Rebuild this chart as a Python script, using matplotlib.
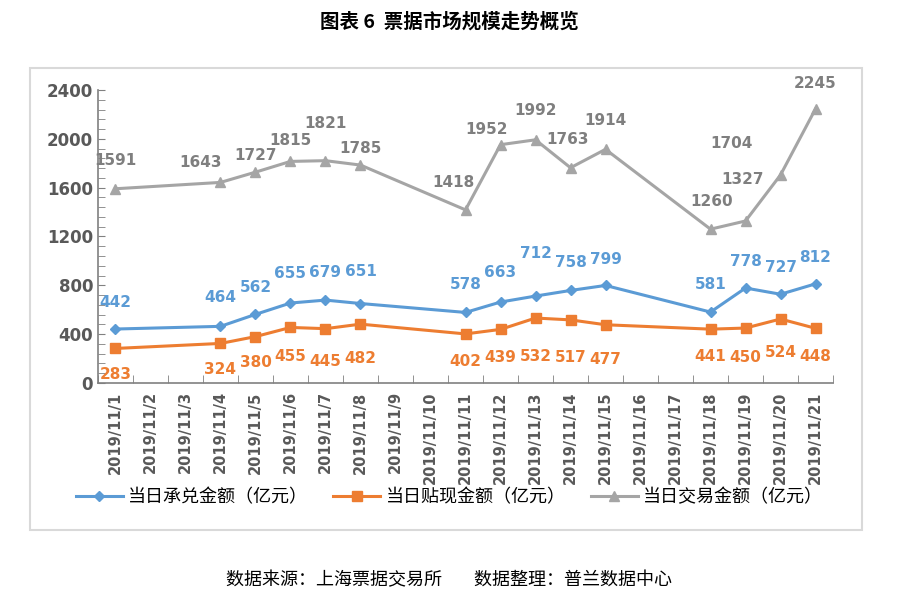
import matplotlib
matplotlib.use('Agg')
import matplotlib.pyplot as plt
from matplotlib.patches import Rectangle
from matplotlib.ticker import MultipleLocator, FixedLocator
import numpy as np

plt.rcParams['font.family'] = ['Noto Sans CJK SC', 'DejaVu Sans']

dates = ['2019/11/%d' % d for d in range(1, 22)]
days = [1, 4, 5, 6, 7, 8, 11, 12, 13, 14, 15, 18, 19, 20, 21]
accept = [442, 464, 562, 655, 679, 651, 578, 663, 712, 758, 799, 581, 778, 727, 812]
discount = [283, 324, 380, 455, 445, 482, 402, 439, 532, 517, 477, 441, 450, 524, 448]
trade = [1591, 1643, 1727, 1815, 1821, 1785, 1418, 1952, 1992, 1763, 1914, 1260, 1327, 1704, 2245]

names = ['当日承兑金额（亿元）', '当日贴现金额（亿元）', '当日交易金额（亿元）']
colors = ['#5B9BD5', '#ED7D31', '#A5A5A5']

# label offsets (points) for each series, mimicking Excel placement
trade_off = [(0, 20), (-14, 14), (0, 12), (0, 15), (0, 27), (0, 12), (-9, 20), (-10, 11),
             (0, 21), (-2, 20), (0, 21), (1, 20), (-2, 30), (-35, 23), (0, 18)]
acc_off = [(0, 19), (0, 21), (0, 19), (0, 21), (0, 20), (0, 23), (0, 20), (0, 21),
           (0, 31), (0, 20), (0, 19), (0, 20), (0, 19), (0, 19), (0, 19)]
dis_off = [(0, -19), (0, -19), (0, -19), (0, -21), (0, -24), (0, -25), (0, -20), (0, -20),
           (0, -28), (0, -27), (0, -25), (0, -20), (0, -21), (0, -24), (0, -20)]

fig = plt.figure(figsize=(8.99, 6.06), dpi=100)
ax = fig.add_axes([0.109, 0.368, 0.8176, 0.4835])

x = np.array(days) - 1
ax.plot(x, accept, color=colors[0], lw=2.2, marker='D', ms=5.5, label=names[0])
ax.plot(x, discount, color=colors[1], lw=2.2, marker='s', ms=7.5, label=names[1])
ax.plot(x, trade, color=colors[2], lw=2.2, marker='^', ms=7.5, label=names[2])

lab_colors = ['#5B9BD5', '#ED7D31', '#7F7F7F']
for vals, offs, c in [(accept, acc_off, lab_colors[0]), (discount, dis_off, lab_colors[1]),
                      (trade, trade_off, lab_colors[2])]:
    for xi, v, o in zip(x, vals, offs):
        ax.annotate(str(v), (xi, v), xytext=o, textcoords='offset points',
                    ha='center', va='center', fontsize=11, fontweight='bold',
                    color=c, family='DejaVu Sans')

ax.set_xlim(-0.5, 20.5)
ax.set_ylim(0, 2400)
ax.yaxis.set_major_locator(MultipleLocator(400))
ax.yaxis.set_minor_locator(MultipleLocator(80))
ax.set_xticks(range(21))
ax.set_xticklabels(dates, rotation=90, fontsize=10.5, fontweight='bold', color='#595959',
                   family='DejaVu Sans')
ax.xaxis.set_minor_locator(FixedLocator(np.arange(-0.5, 21, 1)))
ax.tick_params(axis='x', which='major', length=0, pad=6)
ax.tick_params(axis='x', which='minor', direction='in', length=6, color='#808080')
ax.tick_params(axis='y', which='both', direction='in', length=5, color='#808080',
               labelsize=12, labelcolor='#595959')
for t in ax.get_yticklabels():
    t.set_fontweight('bold')
    t.set_family('DejaVu Sans')
for s in ['top', 'right']:
    ax.spines[s].set_visible(False)
for s in ['left', 'bottom']:
    ax.spines[s].set_color('#808080')
    ax.spines[s].set_linewidth(1.2)

fig.legend(loc='center', bbox_to_anchor=(0.5, 1 - 497 / 606), ncol=3, frameon=False,
           fontsize=13, handlelength=2.6, columnspacing=1.4, handletextpad=0.3)

fig.patches.append(Rectangle((30 / 899, 1 - 530 / 606), 832 / 899, 462 / 606,
                             transform=fig.transFigure, fill=False,
                             edgecolor='#D9D9D9', lw=1.5))

fig.text(0.5, 1 - 22 / 606, '图表 6  票据市场规模走势概览', ha='center', va='center',
         fontsize=14, fontweight='bold')
fig.text(0.5, 1 - 580 / 606, '数据来源：上海票据交易所        数据整理：普兰数据中心',
         ha='center', va='center', fontsize=13)

fig.savefig('out.png', dpi=100)
